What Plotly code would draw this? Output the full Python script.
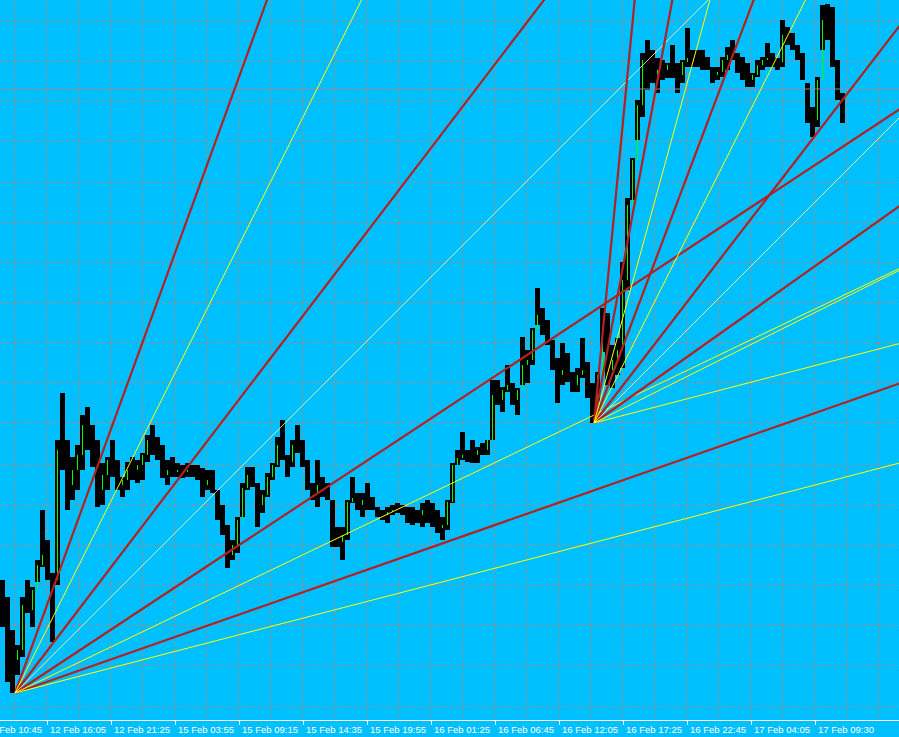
import plotly.graph_objects as go

# ---------------- data (prices in points, one bar per 5 M5 bars) ----------------
bar_index = [5 * k + 2.5 for k in range(169)]

highs = [140,123,90,75,123,140,133,160,210,180,147,280,327,280,263,275,305,313,295,280,
         257,263,280,260,243,258,263,260,267,285,295,283,275,260,263,257,255,257,255,255,
         252,250,250,230,215,195,180,203,237,253,253,237,230,247,257,283,300,265,280,295,
         280,260,237,260,243,237,220,193,193,220,243,227,227,237,223,213,210,213,215,217,
         215,213,213,210,217,220,217,210,203,220,257,270,288,270,280,273,277,280,340,340,
         333,355,337,332,383,370,392,432,412,400,380,362,377,367,348,352,382,358,337,348,
         412,407,375,382,458,522,562,620,667,680,670,662,660,657,675,657,660,692,670,670,
         670,663,653,653,663,673,680,667,663,657,647,660,663,677,667,662,700,693,687,675,
         667,637,613,643,715,716,713,660,627]
lows = [93,38,27,45,63,107,93,138,153,140,78,135,250,210,220,230,250,270,253,213,
        215,230,243,230,223,230,240,237,240,258,265,260,242,235,243,243,242,243,243,240,
        223,230,227,200,185,152,160,167,203,230,233,193,207,223,240,253,260,243,253,267,
        253,230,220,213,223,220,173,173,160,180,217,210,203,210,210,203,200,197,205,207,
        205,197,195,197,193,197,193,187,180,190,217,255,260,258,257,257,265,265,280,315,
        308,328,315,305,335,337,355,395,385,375,350,317,335,338,328,328,342,322,297,318,
        368,335,332,345,352,430,520,580,603,630,637,627,640,642,642,627,637,653,653,653,
        650,650,637,640,643,650,660,647,640,633,633,643,650,653,653,650,653,675,670,660,
        640,597,583,593,670,680,653,620,597]
closes = [100,60,60,70,115,110,130,155,165,145,140,270,265,235,250,265,295,285,265,230,
          245,260,245,235,240,250,250,255,265,280,270,262,245,250,248,250,248,250,248,245,
          235,240,230,205,190,165,175,200,232,245,235,215,225,243,255,275,262,258,275,275,
          258,235,228,235,230,222,180,178,185,218,222,215,220,215,210,206,205,208,210,210,
          208,205,205,205,210,205,200,192,195,218,255,262,265,265,265,270,270,280,325,320,
          330,335,320,330,355,360,390,405,390,378,355,345,350,340,335,345,350,330,320,345,
          390,350,360,370,440,515,560,615,660,650,645,650,650,655,650,645,658,662,662,660,
          660,652,645,648,660,665,662,652,645,640,645,655,660,662,658,658,685,682,672,662,
          640,605,600,640,700,700,660,625,605]
first_open = 130
opens = [first_open] + closes[:-1]

# time axis labels (one every 64 M5 bars)
tick_bars = [-17, 47, 111, 175, 239, 303, 367, 431, 495, 559, 623, 687, 751, 815]
tick_labels = ["12 Feb 10:45", "12 Feb 16:05", "12 Feb 21:25", "15 Feb 03:55",
               "15 Feb 09:15", "15 Feb 14:35", "15 Feb 19:55", "16 Feb 01:25",
               "16 Feb 06:45", "16 Feb 12:05", "16 Feb 17:25", "16 Feb 22:45",
               "17 Feb 04:05", "17 Feb 09:30"]

# Gann-style fans: anchor (bar, price) and slopes (points per bar)
fan_a_anchor = (15, 27)
fan_a_red = [2.75, 1.31, 0.66, 0.35]
fan_a_yellow = [2.0, 0.48, 0.26]
fan_a_mid = [1.0]
fan_b_anchor = (594, 297)
fan_b_red = [10.4, 5.4, 2.65, 1.30, 0.71]
fan_b_yellow = [3.65, 2.0, 0.5, 0.26]
fan_b_mid = [1.0]

price_line = 631

# ---------------- styling ----------------
BG = "#00BFFF"
GRID = "#A28A84"
RED = "#B22222"
YEL = "#FFFF00"
X_MIN, X_MAX = 0, 899
Y_MIN, Y_MAX = 0, 720

fig = go.Figure()

# high-low bars (black) and bullish bodies (lime)
fig.add_trace(go.Bar(x=bar_index, y=[h - l for h, l in zip(highs, lows)], base=lows,
                     width=4.2, marker=dict(color="black", line=dict(width=0)),
                     showlegend=False, hoverinfo="skip"))
bull_x = [x for x, o, c in zip(bar_index, opens, closes) if c > o]
bull_base = [o for o, c in zip(opens, closes) if c > o]
bull_len = [c - o for o, c in zip(opens, closes) if c > o]
fig.add_trace(go.Bar(x=bull_x, y=bull_len, base=bull_base, width=1.0,
                     marker=dict(color="#00FF00", line=dict(width=0)),
                     showlegend=False, hoverinfo="skip"))

fig.add_trace(go.Scatter(x=[X_MIN, X_MAX], y=[price_line, price_line], mode="lines",
                         line=dict(color="#8C8FA0", width=1), showlegend=False, hoverinfo="skip"))


def add_fan(anchor, slopes, color, width):
    x0, y0 = anchor
    for s in slopes:
        x1 = X_MAX + 5
        fig.add_trace(go.Scatter(x=[x0, x1], y=[y0, y0 + s * (x1 - x0)], mode="lines",
                                 line=dict(color=color, width=width),
                                 showlegend=False, hoverinfo="skip"))


add_fan(fan_a_anchor, fan_a_red, RED, 2.2)
add_fan(fan_a_anchor, fan_a_yellow, YEL, 1)
add_fan(fan_a_anchor, fan_a_mid, "#FFFF90", 0.8)
add_fan(fan_b_anchor, fan_b_red, RED, 2.2)
add_fan(fan_b_anchor, fan_b_yellow, YEL, 1)
add_fan(fan_b_anchor, fan_b_mid, "#FFFF90", 0.8)

annotations = []
for tb, lab in zip(tick_bars, tick_labels):
    xa = max(tb, X_MIN)
    annotations.append(dict(x=xa, xref="x", y=0, yref="paper", yanchor="top", xanchor="left",
                            xshift=(tb - xa) + 1, yshift=-2, text=lab, showarrow=False,
                            font=dict(family="Liberation Sans, Arial, sans-serif", size=9.5,
                                      color="white")))

fig.update_layout(
    width=899, height=737,
    margin=dict(l=0, r=0, t=0, b=17, pad=0, autoexpand=False),
    paper_bgcolor=BG, plot_bgcolor=BG,
    barmode="overlay", bargap=0,
    annotations=annotations,
    xaxis=dict(range=[X_MIN, X_MAX],
               tickmode="array", tickvals=tick_bars[1:], showticklabels=False,
               ticks="outside", ticklen=4, tickcolor="white", tickwidth=1,
               showgrid=True, gridcolor=GRID, griddash="3px,3px", gridwidth=1,
               minor=dict(tickmode="linear", tick0=15, dtick=32, showgrid=True, gridcolor=GRID,
                          griddash="3px,3px", gridwidth=1, ticks=""),
               showline=True, linecolor="white", linewidth=1, zeroline=False, fixedrange=True),
    yaxis=dict(range=[Y_MIN, Y_MAX], showticklabels=False, ticks="",
               tick0=14, dtick=40.3, showgrid=True, gridcolor=GRID, griddash="3px,3px",
               gridwidth=1, zeroline=False, showline=False, fixedrange=True),
)

fig.write_html("out.html",
               config={"displayModeBar": False},
               post_script="document.body.style.margin='0px';document.body.style.overflow='hidden';")
